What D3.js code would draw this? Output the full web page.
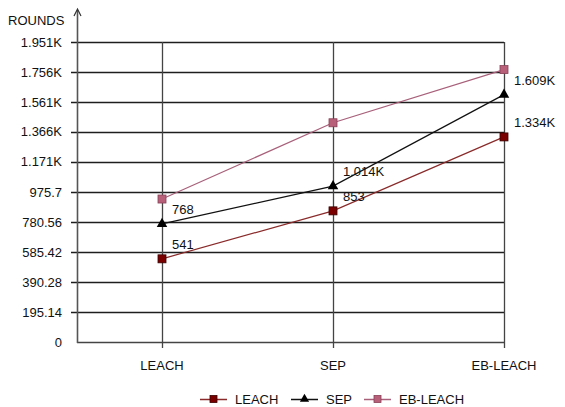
<!DOCTYPE html>
<html>
<head>
<meta charset="utf-8">
<script src="https://cdn.jsdelivr.net/npm/d3@7"></script>
<style>
  body { margin: 0; background: #fff; }
  text { font-family: "Liberation Sans", Arial, sans-serif; fill: #111; }
</style>
</head>
<body>
<script>
// data
const categories = ['LEACH', 'SEP', 'EB-LEACH'];
const leach = [541, 853, 1334];
const sep = [768, 1014, 1609];
const ebLeach = [930, 1426, 1772];
const leachLabels = ['541', '853', '1.334K'];
const sepLabels = ['768', '1.014K', '1.609K'];
const tickValues = [0, 195.14, 390.28, 585.42, 780.56, 975.7, 1171, 1366, 1561, 1756, 1951.4];
const tickLabels = ['0', '195.14', '390.28', '585.42', '780.56', '975.7', '1.171K', '1.366K', '1.561K', '1.756K', '1.951K'];

// config
const config = {
  width: 565,
  height: 407,
  left: 77,
  top: 42,
  bottom: 342,
  gridRight: 504,
  fontSize: '13px',
  leachColor: '#7a0000',
  leachLine: '#8a2a2a',
  ebColor: '#b8607a',
  ebLine: '#a8607a',
};

const series = [
  { name: 'LEACH', values: leach, labels: leachLabels, line: config.leachLine, fill: config.leachColor, stroke: '#3a0000', shape: 'square' },
  { name: 'SEP', values: sep, labels: sepLabels, line: '#111', fill: '#000', stroke: '#000', shape: 'triangle' },
  { name: 'EB-LEACH', values: ebLeach, labels: null, line: config.ebLine, fill: config.ebColor, stroke: '#8a4058', shape: 'square' },
];

const svg = d3.select('body').append('svg')
  .attr('width', config.width)
  .attr('height', config.height);

// category positions
const x = d3.scalePoint()
  .domain(categories)
  .range([162, config.gridRight]);

const y = d3.scaleLinear()
  .domain([0, 1951.4])
  .range([config.bottom, config.top]);

// horizontal grid lines (also act as ticks)
svg.append('g').selectAll('line')
  .data(tickValues)
  .enter().append('line')
  .attr('x1', d => d === 0 ? config.left : config.left - 6)
  .attr('x2', config.gridRight)
  .attr('y1', d => Math.round(y(d)) + 0.5)
  .attr('y2', d => Math.round(y(d)) + 0.5)
  .attr('stroke', d => d === 0 ? '#444' : '#1e1e1e')
  .attr('stroke-width', 1.4);

// vertical grid lines with ticks below the axis
svg.append('g').selectAll('line')
  .data(categories)
  .enter().append('line')
  .attr('x1', d => Math.round(x(d)) + 0.5)
  .attr('x2', d => Math.round(x(d)) + 0.5)
  .attr('y1', config.top)
  .attr('y2', config.bottom + 6)
  .attr('stroke', '#444')
  .attr('stroke-width', 1.3);

// y tick labels
svg.append('g').selectAll('text')
  .data(tickValues)
  .enter().append('text')
  .attr('x', 62)
  .attr('y', d => y(d) + 4.5)
  .attr('text-anchor', 'end')
  .style('font-size', config.fontSize)
  .text((d, i) => tickLabels[i]);

// x labels
svg.append('g').selectAll('text')
  .data(categories)
  .enter().append('text')
  .attr('x', d => x(d))
  .attr('y', 370)
  .attr('text-anchor', 'middle')
  .style('font-size', config.fontSize)
  .text(d => d);

// y axis with arrow
svg.append('line')
  .attr('x1', config.left + 0.5).attr('x2', config.left + 0.5)
  .attr('y1', 10).attr('y2', config.bottom + 1)
  .attr('stroke', '#555').attr('stroke-width', 1.6);
svg.append('path')
  .attr('d', `M${config.left - 3},${16} L${config.left + 0.5},${9} L${config.left + 4},${16}`)
  .attr('fill', 'none')
  .attr('stroke', '#333')
  .attr('stroke-width', 1.2);
svg.append('text')
  .attr('x', 8).attr('y', 25)
  .style('font-size', config.fontSize)
  .text('ROUNDS');

// markers
function drawMarker(g, s, cx, cy, size) {
  if (s.shape === 'square') {
    g.append('rect')
      .attr('x', cx - size / 2).attr('y', cy - size / 2)
      .attr('width', size).attr('height', size)
      .attr('fill', s.fill).attr('stroke', s.stroke).attr('stroke-width', 0.8);
  } else {
    g.append('path')
      .attr('d', d3.symbol().type(d3.symbolTriangle).size(size * size * 0.75)())
      .attr('transform', `translate(${cx},${cy})`)
      .attr('fill', s.fill);
  }
}

const line = d3.line()
  .x((d, i) => x(categories[i]))
  .y(d => y(d));

series.forEach(s => {
  const g = svg.append('g');
  g.append('path')
    .attr('d', line(s.values))
    .attr('fill', 'none')
    .attr('stroke', s.line)
    .attr('stroke-width', 1.2);
  s.values.forEach((v, i) => {
    drawMarker(g, s, x(categories[i]), y(v), 8);
  });
  if (s.labels) {
    g.selectAll('text')
      .data(s.values)
      .enter().append('text')
      .attr('x', (d, i) => x(categories[i]) + 10)
      .attr('y', d => y(d) - 10)
      .style('font-size', config.fontSize)
      .text((d, i) => s.labels[i]);
  }
});

// legend
const legendItems = [
  { s: series[0], x: 200 },
  { s: series[1], x: 291 },
  { s: series[2], x: 364 },
];
legendItems.forEach(item => {
  const g = svg.append('g');
  const ly = 399;
  g.append('line')
    .attr('x1', item.x).attr('x2', item.x + 27)
    .attr('y1', ly + 0.5).attr('y2', ly + 0.5)
    .attr('stroke', item.s.line)
    .attr('stroke-width', 1.5);
  drawMarker(g, item.s, item.x + 13.5, ly, 7);
  g.append('text')
    .attr('x', item.x + 35)
    .attr('y', ly + 5)
    .style('font-size', config.fontSize)
    .text(item.s.name);
});
</script>
</body>
</html>
